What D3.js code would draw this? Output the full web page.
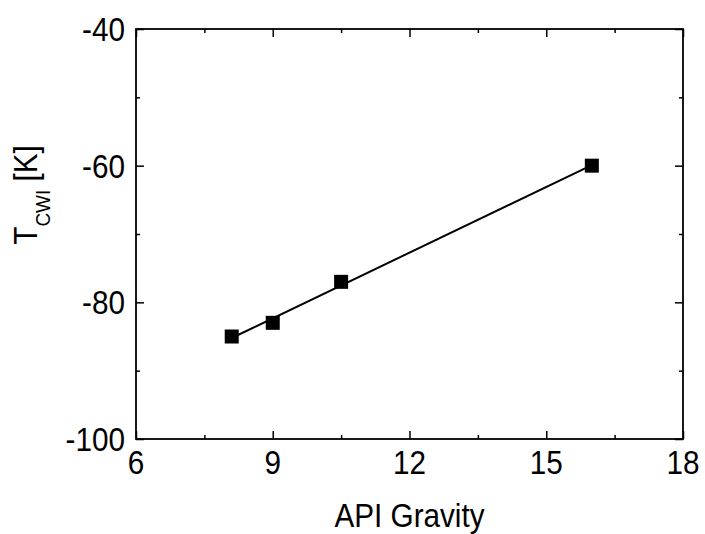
<!DOCTYPE html>
<html>
<head>
<meta charset="utf-8">
<script src="https://cdn.jsdelivr.net/npm/d3@7"></script>
<style>
body { margin:0; background:#fff; }
text { font-family:"Liberation Sans", Arial, sans-serif; fill:#000; }
</style>
</head>
<body>
<svg id="plot"></svg>
<script>
// data
var apiGravity = [8.1, 9, 10.5, 16];
var tCwi = [-85, -83, -77, -60];

var xTicks = [6, 9, 12, 15, 18];
var yTicks = [-100, -80, -60, -40];
var xMinor = [7.5, 10.5, 13.5, 16.5];
var yMinor = [-90, -70, -50];

var points = apiGravity.map(function(x, i){
    return {x:x, y:tCwi[i]};
});

// least squares fit for the line
var linearFit = function(pts)
{
    var mx = d3.mean(pts, function(p){ return p.x; });
    var my = d3.mean(pts, function(p){ return p.y; });
    var sxy = d3.sum(pts, function(p){ return (p.x-mx)*(p.y-my); });
    var sxx = d3.sum(pts, function(p){ return (p.x-mx)*(p.x-mx); });
    var slope = sxy/sxx;
    return function(x){ return my + slope*(x-mx); };
}

// the original text is a bit tall and narrow
var squeeze = " scale(0.9,1)";

var initGraph = function(target)
{
    var screen = {width:705, height:534};
    var margins = {top:29, bottom:95, left:136, right:22};
    var graph = {
        width:screen.width-margins.left-margins.right,
        height:screen.height-margins.top-margins.bottom
    };

    var svg = d3.select(target)
        .attr("width",screen.width)
        .attr("height",screen.height);

    var xScale = d3.scaleLinear()
        .domain([6,18])
        .range([0,graph.width]);

    var yScale = d3.scaleLinear()
        .domain([-100,-40])
        .range([graph.height,0]);

    var g = svg.append("g")
        .attr("transform","translate("+margins.left+","+margins.top+")");

    // inward ticks on all four sides
    var major = 8, minor = 4;
    var addAxis = function(axis, tr, vals, len)
    {
        var a = g.append("g")
            .attr("transform",tr)
            .call(axis.tickValues(vals).tickSize(len).tickFormat(""));
        a.select(".domain").remove();
        a.selectAll("line").attr("stroke","#000").attr("stroke-width",1.5);
        return a;
    }

    addAxis(d3.axisTop(xScale), "translate(0,"+graph.height+")", xTicks, major);
    addAxis(d3.axisTop(xScale), "translate(0,"+graph.height+")", xMinor, minor);
    addAxis(d3.axisBottom(xScale), "translate(0,0)", xTicks, major);
    addAxis(d3.axisBottom(xScale), "translate(0,0)", xMinor, minor);
    addAxis(d3.axisRight(yScale), "translate(0,0)", yTicks, major);
    addAxis(d3.axisRight(yScale), "translate(0,0)", yMinor, minor);
    addAxis(d3.axisLeft(yScale), "translate("+graph.width+",0)", yTicks, major);
    addAxis(d3.axisLeft(yScale), "translate("+graph.width+",0)", yMinor, minor);

    // tick labels
    g.append("g").selectAll("text")
        .data(xTicks)
        .enter()
        .append("text")
        .attr("transform",function(d){
            return "translate("+xScale(d)+","+(graph.height+35)+")"+squeeze;
        })
        .attr("text-anchor","middle")
        .style("font-size","33px")
        .text(function(d){ return d; });

    g.append("g").selectAll("text")
        .data(yTicks)
        .enter()
        .append("text")
        .attr("transform",function(d){
            return "translate(-11,"+yScale(d)+")"+squeeze;
        })
        .attr("dy","0.36em")
        .attr("text-anchor","end")
        .style("font-size","33px")
        .text(function(d){ return d; });

    // frame
    g.append("rect")
        .attr("width",graph.width)
        .attr("height",graph.height)
        .attr("fill","none")
        .attr("stroke","#000")
        .attr("stroke-width",1.8);

    // fit line
    var fit = linearFit(points);
    var xr = d3.extent(apiGravity);
    g.append("line")
        .attr("x1",xScale(xr[0]))
        .attr("y1",yScale(fit(xr[0])))
        .attr("x2",xScale(xr[1]))
        .attr("y2",yScale(fit(xr[1])))
        .attr("stroke","#000")
        .attr("stroke-width",2);

    // square markers
    var s = 14;
    g.selectAll("rect.pt")
        .data(points)
        .enter()
        .append("rect")
        .classed("pt",true)
        .attr("x",function(p){ return xScale(p.x)-s/2; })
        .attr("y",function(p){ return yScale(p.y)-s/2; })
        .attr("width",s)
        .attr("height",s)
        .attr("fill","#000");

    // axis titles
    svg.append("text")
        .attr("transform","translate("+(margins.left+graph.width/2)+",527)"+squeeze)
        .attr("text-anchor","middle")
        .style("font-size","33px")
        .text("API Gravity");

    var yt = svg.append("text")
        .attr("transform","translate(37,195) rotate(-90)"+squeeze)
        .attr("text-anchor","middle")
        .style("font-size","33px");
    yt.append("tspan").text("T");
    yt.append("tspan").attr("dy",13).style("font-size","21px").text("CWI");
    yt.append("tspan").attr("dy",-13).text(" [K]");
}

initGraph("#plot");
</script>
</body>
</html>
